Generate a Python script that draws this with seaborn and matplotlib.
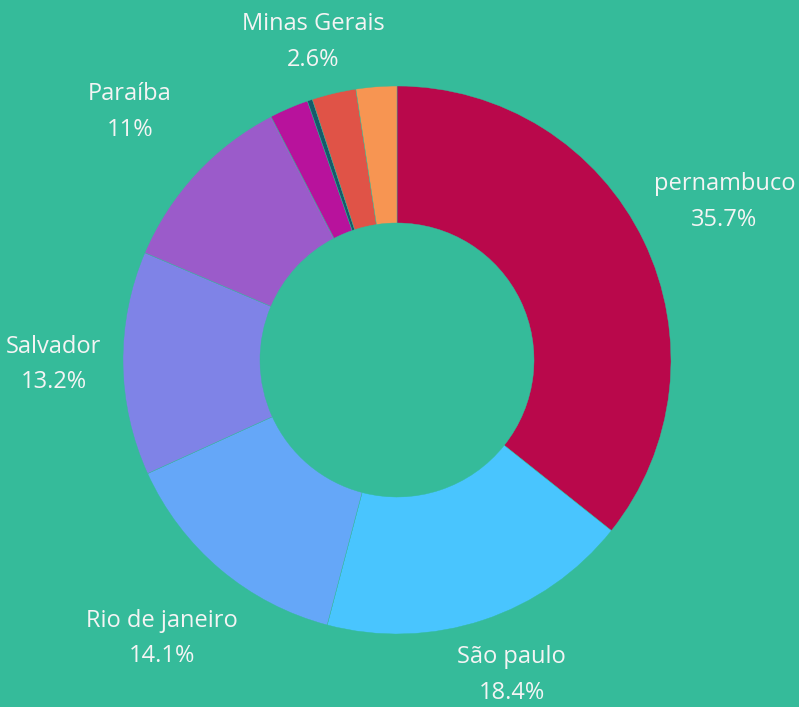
import numpy as np
import matplotlib
matplotlib.use("Agg")
import matplotlib.pyplot as plt
import seaborn as sns

# slices, clockwise from 12 o'clock
states = ["pernambuco", "São paulo", "Rio de janeiro", "Salvador", "Paraíba",
          "Bahia", "Ceará", "Minas Gerais", "Outros"]
shares = [35.7, 18.4, 14.1, 13.2, 11.0, 2.3, 0.3, 2.6, 2.4]
pct_labels = ["35.7%", "18.4%", "14.1%", "13.2%", "11%", "2.3%", "0.3%", "2.6%", "2.4%"]
show_label = [True, True, True, True, True, False, False, True, False]
colors = ["#b9084b", "#49c5fe", "#65a7f8", "#7f83e7", "#9b5bca",
          "#b8129c", "#145a6b", "#e05347", "#f79552"]

bg = "#35bb9a"

sns.set_theme(style="white")
plt.rcParams["font.family"] = ["Open Sans", "DejaVu Sans"]

W, H = 799, 707
fig = plt.figure(figsize=(W / 100, H / 100), dpi=100, facecolor=bg)
ax = fig.add_axes([0, 0, 1, 1])
ax.set_facecolor(bg)
ax.axis("off")

R = 274
center = (397, 347)
ax.pie(shares, colors=colors, radius=R, center=center,
       startangle=90, counterclock=False,
       wedgeprops=dict(width=R * 0.5, edgecolor=bg, linewidth=0.3))
ax.set_xlim(0, W)
ax.set_ylim(0, H)
ax.set_aspect("equal")

# labels centred on the mid angle, kept inside the canvas
fig.canvas.draw()
renderer = fig.canvas.get_renderer()
total = sum(shares)
cum = 0
for name, val, pct, show in zip(states, shares, pct_labels, show_label):
    mid = (cum + val / 2) / total * 2 * np.pi
    cum += val
    if not show:
        continue
    t = ax.text(0, 0, f"{name}\n{pct}", ha="center", va="center",
                multialignment="center", color="#f4f4f4", fontsize=17,
                linespacing=1.65)
    bb = t.get_window_extent(renderer)
    w, h = bb.width, bb.height
    rc = R * 1.33
    x = center[0] + rc * np.sin(mid)
    y = center[1] + rc * np.cos(mid)
    x = min(max(x, w / 2 + 6), W - w / 2 - 4)
    y = min(max(y, h / 2 + 2), H - h / 2 - 12)
    t.set_position((x, y))

fig.savefig("out.png", dpi=100, facecolor=bg)
